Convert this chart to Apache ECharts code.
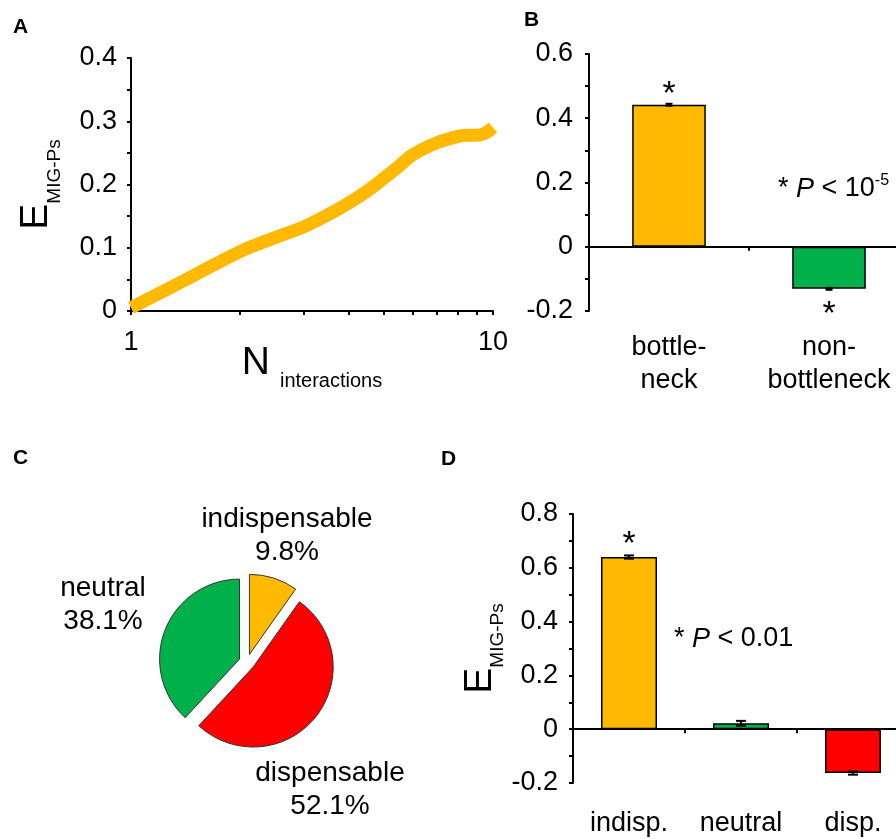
<!DOCTYPE html>
<html><head><meta charset="utf-8">
<script src="https://cdn.jsdelivr.net/npm/echarts@6/dist/echarts.min.js"></script>
<style>html,body{margin:0;padding:0;background:#fff}#c{width:896px;height:839px}</style>
</head><body><div id="c"></div>
<script>
const FONT = '"Liberation Sans", Arial, Helvetica, sans-serif';

// ---- Panel A data ----
const nInteractions = [1, 1.5, 2, 2.5, 3, 3.5, 4, 4.5, 5, 5.5, 6, 7, 8, 8.5, 9, 9.5, 10];
const eMigPs = [0.005, 0.057, 0.094, 0.116, 0.133, 0.152, 0.171, 0.190, 0.210, 0.229, 0.247, 0.266, 0.276, 0.278, 0.278, 0.281, 0.290];
const aXTickValues = [1, 2, 3, 4, 5, 6, 7, 8, 9, 10];
const aXLabelValues = [1, 10];

// ---- Panel B data ----
const bCats = ['bottle-\nneck', 'non-\nbottleneck'];
const bVals = [0.442, -0.131];
const bErr = [0.003, 0.003];
const bStars = ['*', '*'];

// ---- Panel C data ----
const cNames = ['indispensable', 'dispensable', 'neutral'];
const cVals = [9.8, 52.1, 38.1];

// ---- Panel D data ----
const dCats = ['indisp.', 'neutral', 'disp.'];
const dVals = [0.64, 0.022, -0.163];
const dErr = [0.006, 0.009, 0.006];
const dStars = ['*', '', ''];

// ---- styles / layout ----
const YELLOW = '#FFB900', GREEN = '#00B04A', RED = '#FF0000';
const bColors = [YELLOW, GREEN];
const cColors = [YELLOW, RED, GREEN];
const dColors = [YELLOW, GREEN, RED];
const cLabelPos = [[287, 536], [330, 790], [103, 605]];

const axisLineStyle = { color: '#000', width: 2 };
function yAxisCfg(grid, min, max, interval, margin, name, nameGap) {
  const cfg = {
    gridIndex: grid, type: 'value', min: min, max: max, interval: interval,
    axisLine: { show: true, lineStyle: axisLineStyle },
    axisTick: { show: true, length: 4, lineStyle: axisLineStyle },
    minorTick: { show: true, splitNumber: 2, length: 4, lineStyle: axisLineStyle },
    splitLine: { show: false },
    axisLabel: { fontSize: 27, color: '#000', fontFamily: FONT, margin: margin }
  };
  if (name) {
    Object.assign(cfg, {
      name: '{e|E}{s|MIG-Ps}', nameLocation: 'middle', nameRotate: 90, nameGap: nameGap,
      nameTextStyle: {
        color: '#000', fontFamily: FONT,
        rich: {
          e: { fontSize: 39, lineHeight: 39, fontFamily: FONT, color: '#000' },
          s: { fontSize: 19, lineHeight: 19, padding: [36, 0, 0, 0], fontFamily: FONT, color: '#000' }
        }
      }
    });
  }
  return cfg;
}

function errSeries(xi, yi, vals, errs, stars, capW, gapUp, gapDown) {
  return {
    type: 'custom', xAxisIndex: xi, yAxisIndex: yi, z: 10, silent: true,
    data: vals.map((v, i) => [i, v, errs[i]]),
    encode: { x: 0, y: 1 },
    renderItem: function (params, api) {
      const i = api.value(0), v = api.value(1), e = api.value(2);
      const hi = api.coord([i, v + e]), lo = api.coord([i, v - e]);
      const x = hi[0];
      const st = { stroke: '#000', lineWidth: 2 };
      const children = [
        { type: 'line', shape: { x1: x, y1: hi[1], x2: x, y2: lo[1] }, style: st },
        { type: 'line', shape: { x1: x - capW, y1: hi[1], x2: x + capW, y2: hi[1] }, style: st },
        { type: 'line', shape: { x1: x - capW, y1: lo[1], x2: x + capW, y2: lo[1] }, style: st }
      ];
      const s = stars[params.dataIndex];
      if (s) {
        const y = v >= 0 ? hi[1] - gapUp : lo[1] + gapDown;
        children.push({ type: 'text', x: x, y: y,
          style: { text: s, fontSize: 34, fontFamily: FONT, fill: '#000', align: 'center', verticalAlign: 'middle' } });
      }
      return { type: 'group', children: children };
    }
  };
}

function catAxes(grid, cats, tickInside, labelMargin) {
  return [
    { gridIndex: grid, type: 'category', data: cats,
      axisLine: { show: true, onZero: true, lineStyle: axisLineStyle },
      axisTick: { show: true, length: 4, inside: tickInside, lineStyle: axisLineStyle },
      axisLabel: { show: false } },
    { gridIndex: grid, type: 'category', data: cats, position: 'bottom',
      axisLine: { show: false, onZero: false }, axisTick: { show: false },
      axisLabel: { show: true, fontSize: 27, lineHeight: 33, color: '#000', fontFamily: FONT, margin: labelMargin, interval: 0 } }
  ];
}

const subRich = {
  a: { fontSize: 27, fontFamily: FONT, color: '#000' },
  p: { fontSize: 27, fontFamily: FONT, color: '#000', fontStyle: 'italic' },
  sup: { fontSize: 16, fontFamily: FONT, color: '#000', padding: [0, 0, 16, 0] }
};

const chart = echarts.init(document.getElementById('c'), null, { renderer: 'canvas' });
const bAxes = catAxes(1, bCats, false, 20);
const dAxes = catAxes(2, dCats, false, 24);

const pieLabels = cNames.map((n, i) => ({
  type: 'text', x: cLabelPos[i][0], y: cLabelPos[i][1], z: 20,
  style: { text: n + '\n' + cVals[i] + '%', fontSize: 28, lineHeight: 33, fontFamily: FONT,
    fill: '#000', align: 'center', verticalAlign: 'middle' }
}));

const option = {
  animation: false,
  backgroundColor: '#fff',
  textStyle: { fontFamily: FONT },
  grid: [
    { left: 131, top: 58, width: 362, height: 253, outerBoundsMode: 'none', containLabel: false },
    { left: 589, top: 54, width: 320, height: 257, outerBoundsMode: 'none', containLabel: false },
    { left: 573, top: 514, width: 336, height: 269, outerBoundsMode: 'none', containLabel: false }
  ],
  xAxis: [
    { gridIndex: 0, type: 'log', logBase: 10, min: 1, max: 10,
      axisLine: { show: true, onZero: false, lineStyle: axisLineStyle },
      axisTick: { show: true, length: 4, lineStyle: axisLineStyle, customValues: aXTickValues },
      splitLine: { show: false },
      axisLabel: { fontSize: 27, color: '#000', fontFamily: FONT, margin: 18, customValues: aXLabelValues },
      name: '{n|N}{s|interactions}', nameLocation: 'middle', nameGap: 33, nameMoveOverlap: false,
      nameTextStyle: { color: '#000', fontFamily: FONT,
        rich: {
          n: { fontSize: 39, lineHeight: 39, fontFamily: FONT, color: '#000' },
          s: { fontSize: 20, lineHeight: 20, padding: [35, 0, 0, 10], fontFamily: FONT, color: '#000' }
        } } },
    bAxes[0], bAxes[1], dAxes[0], dAxes[1]
  ],
  yAxis: [
    yAxisCfg(0, 0, 0.4, 0.1, 14, true, 75),
    yAxisCfg(1, -0.2, 0.6, 0.2, 16, false),
    yAxisCfg(2, -0.2, 0.8, 0.2, 15, true, 73)
  ],
  series: [
    { type: 'line', xAxisIndex: 0, yAxisIndex: 0, smooth: 0.3, symbol: 'none', clip: false,
      data: nInteractions.map((n, i) => [n, eMigPs[i]]),
      lineStyle: { color: YELLOW, width: 13, cap: 'butt', join: 'round' } },
    { type: 'bar', xAxisIndex: 1, yAxisIndex: 1, barWidth: '46%',
      data: bVals.map((v, i) => ({ value: v, itemStyle: { color: bColors[i] } })),
      itemStyle: { borderColor: '#000', borderWidth: 1.5 } },
    errSeries(1, 1, bVals, bErr, bStars, 3.5, 9, 25),
    { type: 'bar', xAxisIndex: 3, yAxisIndex: 2, barWidth: '50%',
      data: dVals.map((v, i) => ({ value: v, itemStyle: { color: dColors[i] } })),
      itemStyle: { borderColor: '#000', borderWidth: 1.5 } },
    errSeries(3, 2, dVals, dErr, dStars, 5, 11, 25),
    { type: 'pie', center: [247, 662], radius: 80, startAngle: 90, clockwise: true,
      selectedMode: 'multiple', selectedOffset: 8, avoidLabelOverlap: false,
      data: cNames.map((n, i) => ({ name: n, value: cVals[i], selected: true, itemStyle: { color: cColors[i] } })),
      itemStyle: { borderColor: '#333', borderWidth: 1 },
      select: { itemStyle: { borderColor: '#333', borderWidth: 1 } },
      emphasis: { disabled: true },
      label: { show: false },
      labelLine: { show: false } }
  ],
  graphic: [
    { type: 'text', left: 13, top: 17, style: { text: 'A', font: 'bold 21px ' + FONT, fill: '#000' } },
    { type: 'text', left: 524, top: 10, style: { text: 'B', font: 'bold 21px ' + FONT, fill: '#000' } },
    { type: 'text', left: 13, top: 448, style: { text: 'C', font: 'bold 21px ' + FONT, fill: '#000' } },
    { type: 'text', left: 441, top: 449, style: { text: 'D', font: 'bold 21px ' + FONT, fill: '#000' } },
    { type: 'text', x: 778, y: 189, style: { text: '{a|* }{p|P}{a| < 10}{sup|-5}', rich: subRich, verticalAlign: 'middle' } },
    { type: 'text', x: 674, y: 639, style: { text: '{a|* }{p|P}{a| < 0.01}', rich: subRich, verticalAlign: 'middle' } }
  ].concat(pieLabels)
};
chart.setOption(option);
</script>
</body></html>
